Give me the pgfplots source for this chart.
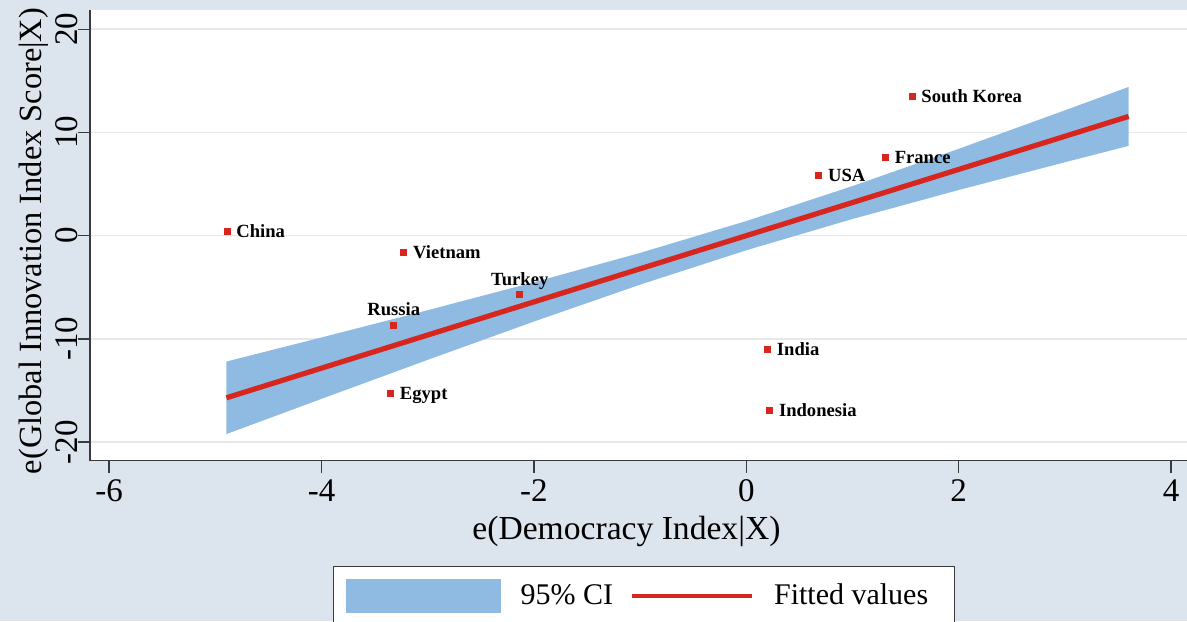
\documentclass[border=0pt]{standalone}
\usepackage{pgfplots}
\pgfplotsset{compat=1.18}
\usepackage{fontspec}
\setmainfont{Liberation Serif}
\definecolor{bgc}{HTML}{DCE5ED}
\definecolor{cibl}{HTML}{8FBBE3}
\definecolor{fitred}{HTML}{D7261E}
\definecolor{axc}{HTML}{3A3A3A}
\pgfplotstableread{
x y lab
-4.89 0.45 China
-3.225 -1.66 Vietnam
-3.35 -15.28 Egypt
0.20 -11.0 India
0.22 -16.9 Indonesia
0.683 5.81 USA
1.31 7.59 France
1.561 13.46 {South Korea}
}\ptsright
\pgfplotstableread{
x y lab
-3.32 -8.69 Russia
-2.133 -5.73 Turkey
}\ptsabove
\begin{document}
\begin{tikzpicture}
\fill[bgc] (-45pt,-80.15pt) rectangle (548.5pt,230.35pt);
\useasboundingbox (-45pt,-80.15pt) rectangle (548.5pt,230.35pt);
\begin{axis}[
 at={(0pt,0pt)}, anchor=south west,
 scale only axis, width=548.5pt, height=225.35pt,
 xmin=-6.18, xmax=4.15, ymin=-21.81, ymax=21.87,
 axis lines*=left,
 axis line style={axc, line width=0.7pt},
 tick style={axc, line width=0.7pt},
 tick align=outside, major tick length=6pt,
 xtick={-6,-4,-2,0,2,4}, ytick={-20,-10,0,10,20},
 minor tick num=0,
 ymajorgrids, grid style={color=black!9, line width=0.8pt},
 axis background/.style={fill=white},
 /pgf/number format/assume math mode=true,
 tick label style={font=\fontsize{16.5}{18}\selectfont},
 yticklabel style={rotate=90, anchor=base},
 xlabel={e(Democracy Index|X)},
 ylabel={e(Global Innovation Index Score|X)},
 xlabel style={font=\fontsize{16.8}{18}\selectfont, at={([yshift=-39.15pt]axis description cs:0.489,0)}, anchor=base},
 ylabel style={font=\fontsize{16.2}{18}\selectfont, at={([xshift=-24pt]axis description cs:0,0.4875)}, anchor=base},
 legend columns=2,
 legend cell align=left,
 legend style={at={([yshift=-52.65pt]axis description cs:0.2215,0)}, anchor=north west,
   draw=axc, line width=0.6pt, fill=white, inner xsep=6pt, inner ysep=6pt,
   font=\fontsize{15}{17}\selectfont, nodes={inner sep=0pt},
   /tikz/every odd column/.append style={column sep=10pt},
   /tikz/every even column/.append style={column sep=8.5pt}},
]
\addplot[fill=cibl, draw=none,
  legend image code/.code={\fill[cibl] (0pt,-8.5pt) rectangle (77.5pt,8.5pt);}]
 coordinates {(-4.895,-12.199) (-4,-9.866) (-3,-7.225) (-2,-4.516) (-1,-1.672) (0,1.416) (1,4.805) (2,8.416) (3,12.145) (3.6,14.413)
   (3.6,8.699) (3,7.115) (2,4.424) (1,1.615) (0,-1.416) (-1,-4.748) (-2,-8.324) (-3,-12.035) (-4,-15.814) (-4.895,-19.227)};
\addlegendentry{95\% CI}
\addplot[fitred, line width=2.6pt,
  legend image code/.code={\draw[fitred, line width=2pt] (0pt,0pt) -- (60pt,0pt);}]
 coordinates {(-4.895,-15.713) (3.6,11.556)};
\addlegendentry{Fitted values\kern 7pt}
\addplot[only marks, mark=square*, mark size=1.5pt, color=fitred, forget plot,
  nodes near coords, point meta=explicit symbolic,
  every node near coord/.append style={anchor=base west, xshift=4.5pt, yshift=-3.1pt, text=black, inner sep=0pt, font=\bfseries\fontsize{9.3}{10}\selectfont}]
 table[x=x, y=y, meta=lab] {\ptsright};
\addplot[only marks, mark=square*, mark size=1.5pt, color=fitred, forget plot,
  nodes near coords, point meta=explicit symbolic,
  every node near coord/.append style={anchor=base, yshift=4.8pt, text=black, inner sep=0pt, font=\bfseries\fontsize{9.3}{10}\selectfont}]
 table[x=x, y=y, meta=lab] {\ptsabove};
\end{axis}
\end{tikzpicture}
\end{document}
